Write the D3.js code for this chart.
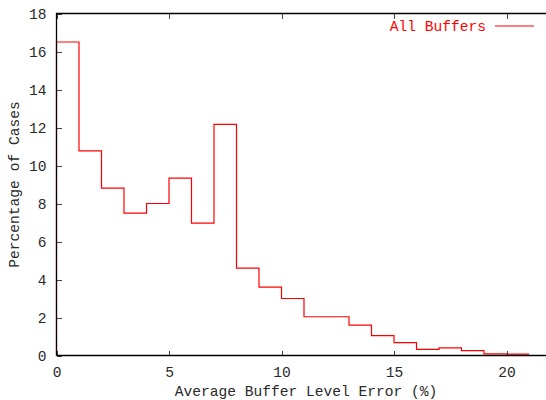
<!DOCTYPE html>
<html lang="en">
<head>
    <meta charset="utf-8">
    <title>Average Buffer Level Error</title>
    <script type="text/javascript" src="https://d3js.org/d3.v7.min.js"></script>
    <style>
        html, body {
            margin: 0;
            padding: 0;
            background: #fff;
        }
        text {
            font-family: "Liberation Mono", "DejaVu Sans Mono", monospace;
            font-size: 14.6px;
            fill: #2a2a2a;
        }
        path.line {
            fill: none;
            stroke: #ff0000;
            stroke-width: 1.2px;
        }
        .axis path { display: none; }
        .axis line {
            stroke: #444;
            shape-rendering: crispEdges;
        }
    </style>
</head>
<body>
<script type="text/javascript">
    // bin left edges (percent error) and share of cases in each bin
    var binStart = [0, 1, 2, 3, 4, 5, 6, 7, 8, 9, 10, 11, 12, 13, 14, 15, 16, 17, 18, 19, 20];
    var percentCases = [16.5, 10.77, 8.81, 7.49, 8.0, 9.34, 6.97, 12.16, 4.6, 3.6, 3.0,
                        2.04, 2.04, 1.6, 1.05, 0.68, 0.32, 0.4, 0.26, 0.09, 0.07];
    var binWidth = 1;
    var xTicks = [0, 5, 10, 15, 20];
    var yTicks = [0, 2, 4, 6, 8, 10, 12, 14, 16, 18];
    var seriesName = "All Buffers";

    var W = 546, H = 400;
    var plotLeft = 56.5, plotTop = 13.5, plotBottom = 355.5;

    var x = d3.scaleLinear().domain([0, 22]).range([plotLeft, plotLeft + 22 * 22.5]);
    var y = d3.scaleLinear().domain([0, 18]).range([plotBottom, plotTop]);

    var svg = d3.select("body").append("svg").attr("width", W).attr("height", H);

    // step outline: rise from zero, then each bin's level, closing at the last bin's right edge
    var pts = [[0, 0]];
    binStart.forEach(function(b, i) { pts.push([b, percentCases[i]]); });
    pts.push([binStart[binStart.length - 1] + binWidth, percentCases[percentCases.length - 1]]);

    var line = d3.line()
        .x(function(d) { return x(d[0]); })
        .y(function(d) { return y(d[1]); })
        .curve(d3.curveStepAfter);

    svg.append("path").attr("class", "line").attr("d", line(pts));

    // inward ticks (bottom, top mirror, left)
    svg.append("g").attr("class", "axis")
        .attr("transform", "translate(0," + plotBottom + ")")
        .call(d3.axisBottom(x).tickValues(xTicks).tickSize(-5).tickPadding(11));
    svg.append("g").attr("class", "axis")
        .attr("transform", "translate(0," + plotTop + ")")
        .call(d3.axisTop(x).tickValues(xTicks).tickSize(-5).tickFormat(""));
    svg.append("g").attr("class", "axis")
        .attr("transform", "translate(" + plotLeft + ",0)")
        .call(d3.axisLeft(y).tickValues(yTicks).tickSize(-5).tickPadding(10));

    svg.selectAll(".axis text").style("font-size", "14.6px").style("font-family", "Liberation Mono");

    // frame
    svg.append("path")
        .attr("d", "M" + plotLeft + "," + plotBottom + "V" + plotTop + "H" + (W + 2) +
                   "M" + plotLeft + "," + plotBottom + "H" + (W + 2))
        .attr("fill", "none").attr("stroke", "#000").attr("stroke-width", 1.3);

    // axis titles
    svg.append("text")
        .attr("x", 306).attr("y", 396)
        .attr("text-anchor", "middle")
        .text("Average Buffer Level Error (%)");
    svg.append("text")
        .attr("transform", "translate(19," + ((plotTop + plotBottom) / 2) + ") rotate(-90)")
        .attr("text-anchor", "middle")
        .text("Percentage of Cases");

    // legend
    svg.append("text")
        .attr("x", 486).attr("y", 31)
        .attr("text-anchor", "end")
        .style("fill", "#ff0000")
        .text(seriesName);
    svg.append("line")
        .attr("x1", 495).attr("x2", 534).attr("y1", 26).attr("y2", 26)
        .attr("stroke", "#ff0000").attr("stroke-width", 1.2);
</script>
</body>
</html>
